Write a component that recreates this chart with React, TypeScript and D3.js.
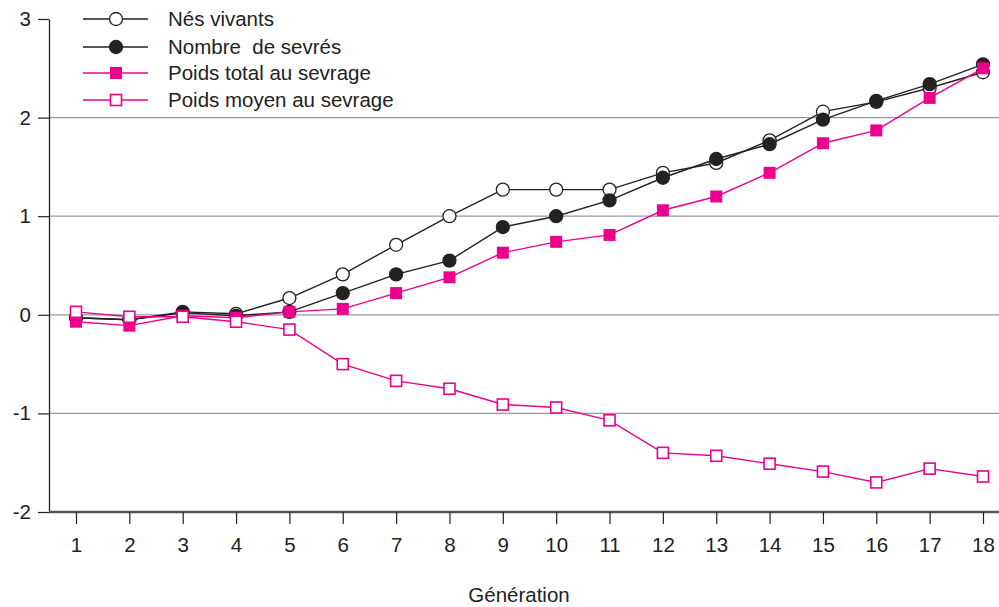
import * as d3 from 'd3';
import React, { useRef, useEffect } from 'react';

const generations = [1, 2, 3, 4, 5, 6, 7, 8, 9, 10, 11, 12, 13, 14, 15, 16, 17, 18];
const yTicks = [-2, -1, 0, 1, 2, 3];

const nesVivants = [-0.03, -0.05, 0.03, 0.01, 0.17, 0.41, 0.71, 1.0, 1.27, 1.27, 1.27, 1.44, 1.54, 1.77, 2.06, 2.16, 2.3, 2.46];
const nombreSevres = [-0.03, -0.05, 0.02, -0.01, 0.03, 0.22, 0.41, 0.55, 0.89, 1.0, 1.16, 1.39, 1.58, 1.73, 1.98, 2.17, 2.34, 2.54];
const poidsTotal = [-0.07, -0.11, -0.01, -0.03, 0.03, 0.06, 0.22, 0.38, 0.63, 0.74, 0.81, 1.06, 1.2, 1.44, 1.74, 1.87, 2.2, 2.5];
const poidsMoyen = [0.03, -0.02, -0.02, -0.07, -0.15, -0.5, -0.67, -0.75, -0.91, -0.94, -1.07, -1.4, -1.43, -1.51, -1.59, -1.7, -1.56, -1.64];

const PINK = '#ec008c';
const DARK = '#222';

const series = [
  { name: 'Nés vivants', values: nesVivants, color: DARK, shape: 'circle', filled: false },
  { name: 'Nombre  de sevrés', values: nombreSevres, color: DARK, shape: 'circle', filled: true },
  { name: 'Poids total au sevrage', values: poidsTotal, color: PINK, shape: 'square', filled: true },
  { name: 'Poids moyen au sevrage', values: poidsMoyen, color: PINK, shape: 'square', filled: false },
];

const width = 999;
const height = 607;
const font = '"Liberation Sans", Arial, sans-serif';
const fontSize = 20.5;

function App() {
  const ref = useRef<SVGSVGElement>(null);

  useEffect(() => {
    const svg = d3.select(ref.current);
    svg.selectAll('*').remove();

    const x = d3.scaleLinear().domain([1, 18]).range([76, 983]);
    const y = d3.scaleLinear().domain([-2, 3]).range([512, 19]);
    const axisLeft = 49;

    // grid lines
    svg
      .append('g')
      .selectAll('line')
      .data(yTicks.filter((t) => t > -2 && t < 3))
      .enter()
      .append('line')
      .attr('x1', axisLeft)
      .attr('x2', width)
      .attr('y1', (d) => y(d))
      .attr('y2', (d) => y(d))
      .attr('stroke', '#9a9a9a')
      .attr('stroke-width', 1.2);

    // y axis
    const yAxis = d3.axisLeft(y).tickValues(yTicks).tickFormat((d) => String(d)).tickSize(11).tickPadding(7).tickSizeOuter(0);
    const gy = svg.append('g').attr('transform', `translate(${axisLeft},0)`).call(yAxis);
    gy.select('.domain').attr('stroke', DARK).attr('stroke-width', 1.3);
    gy.selectAll('.tick line').attr('stroke', DARK).attr('stroke-width', 1.2);
    gy.selectAll('.tick text').attr('font-family', font).attr('font-size', fontSize).attr('fill', DARK);

    // x axis
    const xAxis = d3.axisBottom(x).tickValues(generations).tickFormat(d3.format('d')).tickSize(12).tickPadding(13).tickSizeOuter(0);
    const gx = svg.append('g').attr('transform', `translate(0,${y(-2)})`).call(xAxis);
    gx.select('.domain').attr('d', `M${axisLeft},0H${width}`).attr('stroke', '#555').attr('stroke-width', 2.5);
    gx.selectAll('.tick line').attr('stroke', DARK).attr('stroke-width', 1.2);
    gx.selectAll('.tick text').attr('font-family', font).attr('font-size', fontSize).attr('fill', DARK);

    svg
      .append('text')
      .attr('x', 519)
      .attr('y', 602)
      .attr('text-anchor', 'middle')
      .attr('font-family', font)
      .attr('font-size', fontSize)
      .attr('fill', DARK)
      .text('Génération');

    const line = d3
      .line<number>()
      .x((_, i) => x(generations[i]))
      .y((d) => y(d));

    const drawMarker = (g: any, s: any, cx: number, cy: number) => {
      if (s.shape === 'circle') {
        g.append('circle')
          .attr('cx', cx)
          .attr('cy', cy)
          .attr('r', 6.5)
          .attr('fill', s.filled ? s.color : '#fff')
          .attr('stroke', s.color)
          .attr('stroke-width', 1.3);
      } else {
        const size = s.filled ? 12 : 11;
        g.append('rect')
          .attr('x', cx - size / 2)
          .attr('y', cy - size / 2)
          .attr('width', size)
          .attr('height', size)
          .attr('fill', s.filled ? s.color : '#fff')
          .attr('stroke', s.color)
          .attr('stroke-width', s.filled ? 0 : 1.6);
      }
    };

    series.forEach((s) => {
      const g = svg.append('g');
      g.append('path')
        .attr('d', line(s.values))
        .attr('fill', 'none')
        .attr('stroke', s.color)
        .attr('stroke-width', 1.4);
      s.values.forEach((v, i) => drawMarker(g, s, x(generations[i]), y(v)));
    });

    // legend
    const rowY = [19, 47, 73, 100];
    series.forEach((s, i) => {
      const g = svg.append('g');
      g.append('line')
        .attr('x1', 83)
        .attr('x2', 148)
        .attr('y1', rowY[i])
        .attr('y2', rowY[i])
        .attr('stroke', s.color)
        .attr('stroke-width', 1.4);
      drawMarker(g, s, 116, rowY[i]);
      g.append('text')
        .attr('x', 168)
        .attr('y', rowY[i] + 7)
        .attr('font-family', font)
        .attr('font-size', fontSize)
        .attr('fill', DARK)
        .style('white-space', 'pre')
        .text(s.name);
    });
  }, []);

  return (
    <svg
      ref={ref}
      width={width}
      height={height}
      style={{ position: 'absolute', left: 0, top: 0, background: '#fff' }}
    />
  );
}

export default App;
